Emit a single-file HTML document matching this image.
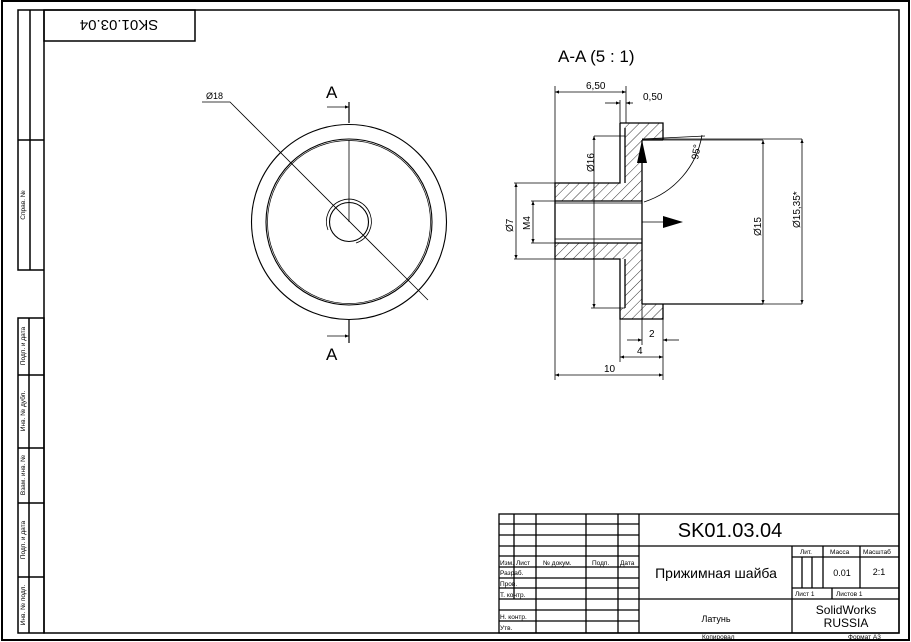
<!DOCTYPE html>
<html><head><meta charset="utf-8"><style>
html,body{margin:0;padding:0;background:#fff;}
svg{display:block;}
text{font-family:"Liberation Sans",sans-serif;fill:#000;}
</style></head><body>
<svg width="911" height="642" viewBox="0 0 911 642" xmlns="http://www.w3.org/2000/svg">
<defs>
<pattern id="h" patternUnits="userSpaceOnUse" width="7" height="7" patternTransform="rotate(45)">
<line x1="0" y1="0" x2="0" y2="7" stroke="#000" stroke-width="0.8"/>
</pattern>
<marker id="a" viewBox="0 0 10 10" refX="10" refY="5" markerWidth="7" markerHeight="5" orient="auto-start-reverse"><path d="M0,1 L10,5 L0,9z" fill="#000"/></marker>
</defs>
<rect x="2" y="1" width="907" height="639" fill="none" stroke="#000" stroke-width="2"/>
<g fill="none" stroke="#000" stroke-width="1.5">
<polyline points="44,10 899,10 899,633 44,633 44,10"/>
<rect x="44" y="10" width="151" height="31"/>
<polyline points="44,10 18,10 18,270 44,270"/>
<line x1="30" y1="10" x2="30" y2="270"/>
<line x1="18" y1="140" x2="44" y2="140"/>
<rect x="18" y="318" width="26" height="315"/>
<line x1="29" y1="318" x2="29" y2="633"/>
<line x1="18" y1="375" x2="44" y2="375"/>
<line x1="18" y1="448" x2="44" y2="448"/>
<line x1="18" y1="503" x2="44" y2="503"/>
<line x1="18" y1="577" x2="44" y2="577"/>
</g>
<text x="119" y="32" font-size="15" text-anchor="middle" transform="rotate(180 119 26)">SK01.03.04</text>
<g font-size="6.5" text-anchor="middle">
<text transform="translate(25,205) rotate(-90)">Справ. №</text>
<text transform="translate(25,346) rotate(-90)">Подп. и дата</text>
<text transform="translate(25,411) rotate(-90)">Инв. № дубл.</text>
<text transform="translate(25,475) rotate(-90)">Взам. инв. №</text>
<text transform="translate(25,540) rotate(-90)">Подп. и дата</text>
<text transform="translate(25,605) rotate(-90)">Инв. № подл.</text>
</g>

<g fill="none" stroke="#000">
<circle cx="349" cy="222" r="97.5" stroke-width="1.1"/>
<circle cx="349" cy="222" r="83" stroke-width="1.1"/>
<circle cx="349" cy="222" r="81.5" stroke-width="0.7"/>
<circle cx="349" cy="222" r="19.5" stroke-width="1.1"/>
<path d="M 328 230 A 22.5 22.5 0 1 1 356 243" stroke-width="0.8"/>
<line x1="349" y1="102" x2="349" y2="123" stroke-width="1.2"/>
<line x1="349" y1="320" x2="349" y2="343" stroke-width="1.2"/>
<line x1="349" y1="140" x2="349" y2="222" stroke-width="0.8"/>
<line x1="327" y1="107" x2="349" y2="107" stroke-width="0.8" marker-end="url(#a)"/>
<line x1="327" y1="336" x2="349" y2="336" stroke-width="0.8" marker-end="url(#a)"/>
<polyline points="202,102 230,102 428,300" stroke-width="0.8"/>
</g>
<text x="326" y="98" font-size="17">A</text>
<text x="326" y="360" font-size="17">A</text>
<text x="206" y="99" font-size="9">Ø18</text>

<text x="558" y="62" font-size="17">A-A  (5 : 1)</text>
<g stroke="none" fill="url(#h)">
<polygon points="625,123 663,123 663,140 642,140 642,201 555,201 555,183 625,183"/>
<polygon points="620,123 625,123 625,128 620,128"/>
<polygon points="555,243 642,243 642,304 663,304 663,319 620,319 620,308 625,308 625,259 555,259"/>
</g>
<g fill="none" stroke="#000" stroke-width="1.3">
<polyline points="620,123 663,123 663,140"/>
<polyline points="663,304 663,319 620,319 620,259 555,259 555,183 620,183 620,123"/>
<line x1="625" y1="128" x2="625" y2="183"/>
<line x1="625" y1="259" x2="625" y2="308"/>
<line x1="642" y1="140" x2="642" y2="304"/>
<line x1="642" y1="140" x2="663" y2="140"/>
<line x1="642" y1="304" x2="763" y2="304"/>
<line x1="555" y1="201" x2="642" y2="201"/>
<line x1="555" y1="243" x2="642" y2="243"/>
</g>
<g fill="none" stroke="#000" stroke-width="0.8">
<line x1="555" y1="203" x2="642" y2="203"/>
<line x1="555" y1="239" x2="642" y2="239"/>
<line x1="642" y1="140" x2="763" y2="140"/>
<line x1="642" y1="139" x2="802" y2="139"/>
<line x1="663" y1="304" x2="802" y2="304"/>
<line x1="763" y1="140" x2="763" y2="304" marker-start="url(#a)" marker-end="url(#a)"/>
<line x1="802" y1="139" x2="802" y2="304" marker-start="url(#a)" marker-end="url(#a)"/>
<line x1="594" y1="136" x2="625" y2="136"/>
<line x1="591" y1="308" x2="625" y2="308"/>
<line x1="594" y1="136" x2="594" y2="308" marker-start="url(#a)" marker-end="url(#a)"/>
<line x1="514" y1="183" x2="555" y2="183"/>
<line x1="514" y1="259" x2="555" y2="259"/>
<line x1="516" y1="183" x2="516" y2="259" marker-start="url(#a)" marker-end="url(#a)"/>
<line x1="531" y1="201" x2="555" y2="201"/>
<line x1="531" y1="243" x2="555" y2="243"/>
<line x1="533" y1="201" x2="533" y2="243" marker-start="url(#a)" marker-end="url(#a)"/>
<line x1="555" y1="86" x2="555" y2="183"/>
<line x1="626" y1="86" x2="626" y2="123"/>
<line x1="620" y1="100" x2="620" y2="123"/>
<line x1="555" y1="92" x2="626" y2="92" marker-start="url(#a)" marker-end="url(#a)"/>
<line x1="605" y1="103" x2="620" y2="103" marker-end="url(#a)"/>
<line x1="633" y1="103" x2="626" y2="103" marker-end="url(#a)"/>
<line x1="555" y1="259" x2="555" y2="380"/>
<line x1="663" y1="319" x2="663" y2="380"/>
<line x1="620" y1="319" x2="620" y2="362"/>
<line x1="642" y1="304" x2="642" y2="345"/>
<line x1="627" y1="340" x2="642" y2="340" marker-end="url(#a)"/>
<line x1="679" y1="340" x2="663" y2="340" marker-end="url(#a)"/>
<line x1="620" y1="357" x2="663" y2="357" marker-start="url(#a)" marker-end="url(#a)"/>
<line x1="555" y1="375" x2="663" y2="375" marker-start="url(#a)" marker-end="url(#a)"/>
<line x1="642" y1="222" x2="663" y2="222"/>
<line x1="642" y1="139" x2="705" y2="136"/>
<path d="M 702 135 A 85 85 0 0 1 644 202"/>
</g>
<polygon points="642,140 637,163 647,163" fill="#000"/>
<polygon points="683,222 663,216 663,228" fill="#000"/>
<g font-size="10">
<text x="586" y="89">6,50</text>
<text x="643" y="100">0,50</text>
<text x="649" y="337">2</text>
<text x="637" y="354">4</text>
<text x="604" y="372">10</text>
<text transform="translate(594,172) rotate(-90)">Ø16</text>
<text transform="translate(513,232) rotate(-90)">Ø7</text>
<text transform="translate(530,230) rotate(-90)">M4</text>
<text transform="translate(761,236) rotate(-90)">Ø15</text>
<text transform="translate(800,228) rotate(-90)">Ø15,35*</text>
<text transform="translate(698,160) rotate(-80)">95°</text>
</g>

<g fill="none" stroke="#000" stroke-width="1.3">
<rect x="499" y="514" width="400" height="119"/>
<line x1="639" y1="514" x2="639" y2="633"/>
<line x1="639" y1="546" x2="899" y2="546"/>
<line x1="639" y1="599" x2="899" y2="599"/>
<line x1="792" y1="546" x2="792" y2="633"/>
<line x1="823" y1="546" x2="823" y2="588"/>
<line x1="860" y1="546" x2="860" y2="588"/>
<line x1="792" y1="557" x2="899" y2="557"/>
<line x1="792" y1="588" x2="899" y2="588"/>
<line x1="832" y1="588" x2="832" y2="599"/>
<line x1="802" y1="557" x2="802" y2="588"/>
<line x1="812" y1="557" x2="812" y2="588"/>
<line x1="514" y1="514" x2="514" y2="599"/>
<line x1="536" y1="514" x2="536" y2="633"/>
<line x1="586" y1="514" x2="586" y2="633"/>
<line x1="618" y1="514" x2="618" y2="633"/>
<line x1="499" y1="524" x2="639" y2="524"/>
<line x1="499" y1="535" x2="639" y2="535"/>
<line x1="499" y1="546" x2="639" y2="546"/>
<line x1="499" y1="556" x2="639" y2="556"/>
<line x1="499" y1="567" x2="639" y2="567"/>
<line x1="499" y1="578" x2="639" y2="578"/>
<line x1="499" y1="588" x2="639" y2="588"/>
<line x1="499" y1="599" x2="639" y2="599"/>
<line x1="499" y1="610" x2="639" y2="610"/>
<line x1="499" y1="621" x2="639" y2="621"/>
</g>
<g font-size="6.5">
<text x="500" y="565">Изм.</text><text x="516" y="565">Лист</text><text x="543" y="565">№ докум.</text><text x="592" y="565">Подп.</text><text x="620" y="565">Дата</text>
<text x="500" y="575">Разраб.</text><text x="500" y="586">Пров.</text><text x="500" y="597">Т. контр.</text>
<text x="500" y="619">Н. контр.</text><text x="500" y="630">Утв.</text>
<text x="800" y="554">Лит.</text><text x="830" y="554">Масса</text><text x="863" y="554">Масштаб</text>
<text x="795" y="596">Лист 1</text><text x="836" y="596">Листов 1</text>
<text x="702" y="639">Копировал</text><text x="848" y="639">Формат А3</text>
</g>
<text x="730" y="537" font-size="20" text-anchor="middle">SK01.03.04</text>
<text x="716" y="578" font-size="14" text-anchor="middle">Прижимная шайба</text>
<text x="716" y="622" font-size="9" text-anchor="middle">Латунь</text>
<text x="842" y="576" font-size="9" text-anchor="middle">0.01</text>
<text x="879" y="575" font-size="9" text-anchor="middle">2:1</text>
<text x="846" y="614" font-size="12" text-anchor="middle">SolidWorks</text>
<text x="846" y="627" font-size="12" text-anchor="middle">RUSSIA</text>
</svg>
</body></html>
